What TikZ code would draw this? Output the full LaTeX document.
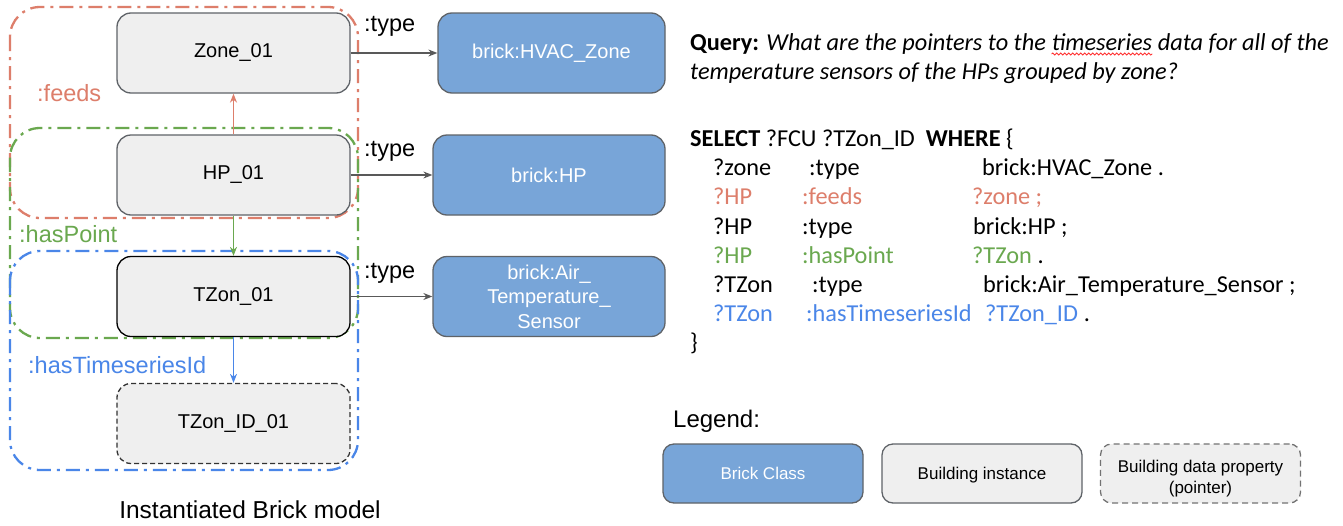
\documentclass[tikz,border=0pt]{standalone}
\usepackage{fontspec}
\setmainfont{Liberation Sans}
\newfontfamily\calibri{Carlito}
\usetikzlibrary{arrows.meta,decorations.pathmorphing}
\definecolor{bclass}{HTML}{78A5D8}
\definecolor{inst}{HTML}{EFEFEF}
\definecolor{bord}{HTML}{5F6368}
\definecolor{cfeeds}{HTML}{DD7E6B}
\definecolor{cpoint}{HTML}{6AA84F}
\definecolor{cts}{HTML}{4A86E8}
\definecolor{arr}{HTML}{595959}
\tikzset{
  box/.style={rounded corners=14pt, minimum width=233pt, minimum height=80pt, line width=1.3pt,
    font=\fontsize{20}{24.5}\selectfont, align=center, inner sep=0pt},
  instbox/.style={box, draw=bord, fill=inst},
  classbox/.style={box, draw=bord, fill=bclass, text=white},
  ptrbox/.style={box, draw=black!80, fill=inst, dash pattern=on 5pt off 3pt},
  region/.style={line width=2.3pt, rounded corners=30pt, dash pattern=on 14pt off 6pt on 3pt off 6pt},
  lbl/.style={font=\fontsize{23.5}{27}\selectfont, inner sep=0pt, anchor=base west},
  link/.style={-{Stealth[length=9pt,width=7pt]}, line width=1.2pt},
  qfont/.style={font=\calibri\fontsize{24.3}{29.3}\selectfont, inner sep=0pt, anchor=base west},
  legbox/.style={minimum width=200pt, minimum height=59pt, rounded corners=11pt, inner sep=0pt,
    font=\fontsize{17}{21}\selectfont, line width=1.3pt}
}
\begin{document}
\begin{tikzpicture}[x=1pt,y=-1pt]
\useasboundingbox[fill=white] (0,0) rectangle (1343,525);
% regions
\draw[region, cfeeds] (10,7) rectangle (358,218);
\draw[region, cpoint] (10,128) rectangle (358,338);
\draw[region, cts] (10,251) rectangle (358,470);
% instance nodes
\node[instbox] (zone) at (233.5,53) {Zone\_01};
\node[instbox] (hp) at (233.5,175) {HP\_01};
\node[instbox, draw=black] (tzon) at (233.5,296.5) {TZon\_01};
\node[ptrbox] (tzid) at (233.5,423.5) {TZon\_ID\_01};
% class nodes
\node[classbox, minimum width=227pt] (chvac) at (551.5,53) {brick:HVAC\_Zone};
\node[classbox, minimum width=232pt] (chp) at (549,175) {brick:HP};
\node[classbox, minimum width=232pt] (cats) at (549,296.5) {brick:Air\_\\Temperature\_\\Sensor};
% connectors
\draw[link, arr] (zone) -- (chvac);
\draw[link, arr] (hp) -- (chp);
\draw[link, arr] (tzon) -- (cats);
\draw[link, cfeeds] (hp) -- (zone);
\draw[link, cpoint] (hp) -- (tzon);
\draw[link, cts] (tzon) -- (tzid);
% labels
\node[lbl] (t1) at (364,31) {:type};
\node[lbl] (t2) at (364,156) {:type};
\node[lbl] (t3) at (364,278) {:type};
\node[lbl, text=cfeeds] (lf) at (37,101) {:feeds};
\node[lbl, text=cpoint] (lp) at (19,242) {:hasPoint};
\node[lbl, text=cts] (lt) at (28,373) {:hasTimeseriesId};
\node[lbl, anchor=base, font=\fontsize{24.5}{28}\selectfont] (cap) at (250,518) {Instantiated Brick model};
% query
\node[qfont] (qa) at (690,50) {\textbf{Query:} \textit{What are the pointers to the}};
\node[qfont] (qts) at ([xshift=5.4pt]qa.base east) {\textit{timeseries}};
\node[qfont] (qb) at ([xshift=5.4pt]qts.base east) {\textit{data for all of the}};
\draw[red!80, line width=0.8pt, decorate, decoration={snake, amplitude=1pt, segment length=4pt}]
  ([yshift=-4pt]qts.base west) -- ([yshift=-4pt]qts.base east);
\node[qfont] (q2) at (690,79) {\textit{temperature sensors of the HPs grouped by zone?}};
% sparql
\node[qfont] (s0) at (690,146) {\textbf{SELECT} ?FCU ?TZon\_ID\ \ \textbf{WHERE} \{};
\node[qfont] (a1) at (713,175) {?zone};
\node[qfont] (b1) at (809,175) {:type};
\node[qfont] (c1) at (982,175) {brick:HVAC\_Zone .};
\node[qfont, text=cfeeds] (a2) at (713,204) {?HP};
\node[qfont, text=cfeeds] (b2) at (802,204) {:feeds};
\node[qfont, text=cfeeds] (c2) at (972,204) {?zone ;};
\node[qfont] (a3) at (713,234) {?HP};
\node[qfont] (b3) at (802,234) {:type};
\node[qfont] (c3) at (973,234) {brick:HP ;};
\node[qfont, text=cpoint] (a4) at (713,263) {?HP};
\node[qfont, text=cpoint] (b4) at (802,263) {:hasPoint};
\node[qfont, text=cpoint] (c4) at (972,263) {?TZon};
\node[qfont] (d4) at ([xshift=5.4pt]c4.base east) {.};
\node[qfont] (a5) at (713,292) {?TZon};
\node[qfont] (b5) at (812,292) {:type};
\node[qfont] (c5) at (983,292) {brick:Air\_Temperature\_Sensor ;};
\node[qfont, text=cts] (a6) at (713,321) {?TZon};
\node[qfont, text=cts] (b6) at (806,321) {:hasTimeseriesId};
\node[qfont, text=cts] (c6) at (985,321) {?TZon\_ID};
\node[qfont] (d6) at ([xshift=5.4pt]c6.base east) {.};
\node[qfont] (s7) at (690,350) {\}};
% legend
\node[lbl, font=\fontsize{24}{28}\selectfont] (leg) at (673,427) {Legend:};
\node[legbox, draw=bord, fill=bclass, text=white, text height=12pt, text depth=-2pt] (lg1) at (763,473.5) {Brick Class};
\node[legbox, draw=bord, fill=inst, text height=12pt, text depth=-2pt] (lg2) at (982,473.5) {Building instance};
\node[legbox, draw=black!55, fill=inst, dash pattern=on 6pt off 4pt] (lg3) at (1200.5,473.5) {};
\node[font=\fontsize{17}{21}\selectfont, align=center, inner sep=0pt] (lg3t) at ([yshift=-5pt]lg3.center)
  {Building data property\\(pointer)};
\end{tikzpicture}
\end{document}
